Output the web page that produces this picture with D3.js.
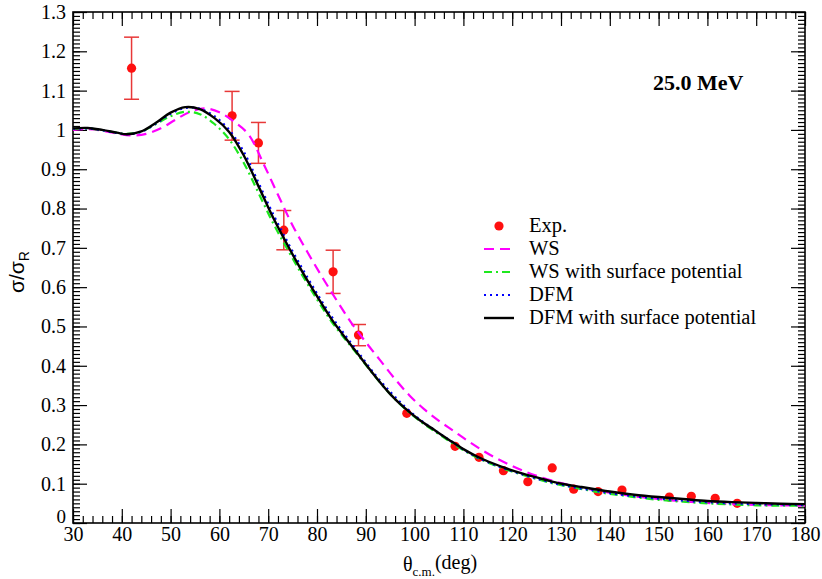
<!DOCTYPE html>
<html>
<head>
<meta charset="utf-8">
<script src="https://cdn.jsdelivr.net/npm/d3@7"></script>
<style>
  html, body { margin: 0; padding: 0; background: #fff; }
  svg { display: block; }
</style>
</head>
<body>
<svg id="chart" width="822" height="579"></svg>
<script>
// Elastic scattering ratio to Rutherford, 25.0 MeV

// Angular grid of the calculated curves (deg)
const thetaCalc = [30,33,36,39,41,44,47,50,53,56,59,62,65,68,71,74,77,80,83,86,89,92,95,98,101,104,107,110,113,116,119,122,125,128,131,134,137,140,145,150,155,160,165,170,175,180];
// DFM with surface potential
const dfmSurf = [1.004,1.005,1.000,0.993,0.989,0.996,1.018,1.044,1.058,1.053,1.030,0.995,0.935,0.857,0.777,0.706,0.639,0.577,0.518,0.468,0.420,0.372,0.328,0.292,0.262,0.237,0.212,0.188,0.168,0.152,0.138,0.126,0.116,0.106,0.098,0.092,0.086,0.080,0.072,0.066,0.061,0.056,0.053,0.051,0.049,0.048];
// DFM
const dfm = [1.003,1.004,0.999,0.992,0.989,0.995,1.016,1.041,1.056,1.054,1.035,1.000,0.944,0.866,0.786,0.714,0.647,0.584,0.525,0.474,0.425,0.376,0.334,0.296,0.264,0.237,0.212,0.187,0.166,0.150,0.136,0.124,0.113,0.103,0.095,0.088,0.082,0.076,0.068,0.062,0.057,0.053,0.050,0.048,0.047,0.046];
// WS with surface potential
const wsSurf = [1.003,1.004,0.999,0.993,0.990,0.996,1.015,1.035,1.046,1.040,1.015,0.976,0.916,0.840,0.763,0.695,0.630,0.569,0.512,0.464,0.418,0.371,0.328,0.291,0.260,0.234,0.209,0.185,0.165,0.149,0.135,0.123,0.112,0.102,0.094,0.087,0.080,0.074,0.066,0.059,0.054,0.050,0.047,0.045,0.044,0.044];

// Angular grid of the WS curve (deg)
const thetaWs = [30,33,36,39,42,45,48,51,54,57,60,63,66,69,72,75,78,81,84,87,90,93,96,99,102,105,108,111,114,117,120,123,126,129,132,135,138,141,145,150,155,160,165,170,175,180];
const ws = [1.000,1.002,0.998,0.991,0.986,0.990,1.004,1.026,1.046,1.055,1.045,1.021,0.988,0.915,0.835,0.757,0.690,0.627,0.567,0.510,0.460,0.413,0.366,0.324,0.289,0.260,0.234,0.208,0.184,0.163,0.145,0.129,0.116,0.105,0.096,0.088,0.081,0.075,0.068,0.061,0.055,0.051,0.048,0.046,0.045,0.044];

// Experimental points
const expTheta = [42.0,62.6,68.0,73.2,83.3,88.5,98.4,108.3,113.2,118.2,123.2,128.2,132.6,137.6,142.5,152.2,156.7,161.6,166.1];
const expVal   = [1.157,1.036,0.967,0.745,0.639,0.478,0.279,0.195,0.167,0.133,0.105,0.140,0.086,0.080,0.084,0.066,0.068,0.063,0.050];
const expErr   = [0.079,0.062,0.052,0.050,0.055,0.027,0,0,0,0,0,0,0,0,0,0,0,0,0];

// Axis ticks
const xMajor = [30,40,50,60,70,80,90,100,110,120,130,140,150,160,170,180];
const yMajor = [0,0.1,0.2,0.3,0.4,0.5,0.6,0.7,0.8,0.9,1,1.1,1.2,1.3];
const yLabels = ["0","0.1","0.2","0.3","0.4","0.5","0.6","0.7","0.8","0.9","1","1.1","1.2","1.3"];

// Legend entries
const legendNames = ["Exp.","WS","WS with surface potential","DFM","DFM with surface potential"];

const svg = d3.select("#chart");
const plotL = 73, plotR = 805, plotT = 12, plotB = 523;
const x = d3.scaleLinear().domain([30, 180]).range([plotL, plotR]);
const y = d3.scaleLinear().domain([0, 1.3]).range([plotB, plotT]);

const serif = "'Liberation Serif', 'Times New Roman', serif";

const xMinor = d3.range(30, 181, 2);
const yMinor = d3.range(0, 131).map(i => i / 100);

function styleAxis(g) {
  g.select(".domain").remove();
  g.selectAll(".tick line").attr("stroke", "#000").attr("stroke-width", 1.2);
  g.selectAll("text").attr("font-family", serif).attr("font-size", 20).attr("fill", "#000");
}

// bottom axis
svg.append("g").attr("transform", `translate(0,${plotB})`)
  .call(d3.axisBottom(x).tickValues(xMinor).tickSize(-7).tickFormat(""))
  .call(styleAxis);
svg.append("g").attr("transform", `translate(0,${plotB})`)
  .call(d3.axisBottom(x).tickValues(xMajor).tickSize(-14).tickPadding(4).tickFormat(d3.format("d")))
  .call(styleAxis);
// top axis
svg.append("g").attr("transform", `translate(0,${plotT})`)
  .call(d3.axisTop(x).tickValues(xMinor).tickSize(-7).tickFormat(""))
  .call(styleAxis);
svg.append("g").attr("transform", `translate(0,${plotT})`)
  .call(d3.axisTop(x).tickValues(xMajor).tickSize(-14).tickFormat(""))
  .call(styleAxis);
// left axis
svg.append("g").attr("transform", `translate(${plotL},0)`)
  .call(d3.axisLeft(y).tickValues(yMinor).tickSize(-7).tickFormat(""))
  .call(styleAxis);
const yAxisG = svg.append("g").attr("transform", `translate(${plotL},0)`)
  .call(d3.axisLeft(y).tickValues(yMajor).tickSize(-14).tickPadding(7)
    .tickFormat((d, i) => yLabels[i]))
  .call(styleAxis);
// the zero label sits a little higher, clear of the x labels
yAxisG.selectAll(".tick text").filter(d => d === 0).attr("dy", "-0.05em").attr("font-size", 19);
// right axis
svg.append("g").attr("transform", `translate(${plotR},0)`)
  .call(d3.axisRight(y).tickValues(yMinor).tickSize(-7).tickFormat(""))
  .call(styleAxis);
svg.append("g").attr("transform", `translate(${plotR},0)`)
  .call(d3.axisRight(y).tickValues(yMajor).tickSize(-14).tickFormat(""))
  .call(styleAxis);

// frame
svg.append("rect")
  .attr("x", plotL).attr("y", plotT)
  .attr("width", plotR - plotL).attr("height", plotB - plotT)
  .attr("fill", "none").attr("stroke", "#000").attr("stroke-width", 1.6);

// experimental points with error bars
const red = "#ff1010";
const errColor = "#e83838";
const exp = expTheta.map((t, i) => ({ t, v: expVal[i], e: expErr[i] }));
const eg = svg.append("g");
exp.filter(d => d.e > 0).forEach(d => {
  const cx = x(d.t), y1 = y(d.v + d.e), y0 = y(d.v - d.e);
  eg.append("line").attr("x1", cx).attr("x2", cx).attr("y1", y1).attr("y2", y0)
    .attr("stroke", errColor).attr("stroke-width", 1.5);
  [y1, y0].forEach(yy => eg.append("line")
    .attr("x1", cx - 7.5).attr("x2", cx + 7.5).attr("y1", yy).attr("y2", yy)
    .attr("stroke", errColor).attr("stroke-width", 1.5));
});
eg.selectAll("circle").data(exp).enter().append("circle")
  .attr("cx", d => x(d.t)).attr("cy", d => y(d.v)).attr("r", 4.6).attr("fill", red);

// calculated curves
const line = d3.line().x(d => x(d[0])).y(d => y(d[1])).curve(d3.curveCatmullRom.alpha(0.5));
const curves = [
  { th: thetaWs,   v: ws,      color: "#ff00ff", width: 2.2, dash: "10,6" },
  { th: thetaCalc, v: wsSurf,  color: "#1ee81e", width: 2.2, dash: "8,4,2,4" },
  { th: thetaCalc, v: dfm,     color: "#0000ff", width: 2.2, dash: "2,4" },
  { th: thetaCalc, v: dfmSurf, color: "#000000", width: 2.4, dash: null }
];
svg.append("clipPath").attr("id", "plotclip").append("rect")
  .attr("x", plotL).attr("y", plotT).attr("width", plotR - plotL).attr("height", plotB - plotT);
const cg = svg.append("g").attr("clip-path", "url(#plotclip)");
curves.forEach(c => {
  cg.append("path")
    .attr("d", line(c.th.map((t, i) => [t, c.v[i]])))
    .attr("fill", "none").attr("stroke", c.color).attr("stroke-width", c.width)
    .attr("stroke-dasharray", c.dash);
});

// legend
const legRows = [226, 249, 272, 295, 318];
const lg = svg.append("g");
legendNames.forEach((name, i) => {
  const ry = legRows[i];
  if (i === 0) {
    lg.append("circle").attr("cx", 499).attr("cy", ry).attr("r", 4.6).attr("fill", red);
  } else {
    const c = curves[i - 1];
    lg.append("line").attr("x1", 484).attr("x2", 514).attr("y1", ry).attr("y2", ry)
      .attr("stroke", c.color).attr("stroke-width", c.width).attr("stroke-dasharray", c.dash);
  }
  lg.append("text").attr("x", 529).attr("y", ry + 6)
    .attr("font-family", serif).attr("font-size", 20.5).attr("fill", "#000").text(name);
});

// energy label
svg.append("text").attr("x", 653).attr("y", 90)
  .attr("font-family", serif).attr("font-size", 22).attr("font-weight", "bold")
  .attr("fill", "#000").text("25.0 MeV");

// x axis title
const xt = svg.append("text").attr("x", 440).attr("y", 571).attr("text-anchor", "middle")
  .attr("font-family", serif).attr("font-size", 20).attr("fill", "#000");
xt.append("tspan").text("θ");
xt.append("tspan").attr("font-size", 13).attr("dy", 5).text("c.m.");
xt.append("tspan").attr("dy", -7).text("(deg)");

// y axis title
const yt = svg.append("text").attr("transform", "translate(24,272) rotate(-90)")
  .attr("text-anchor", "middle")
  .attr("font-family", "'Liberation Sans', Arial, sans-serif").attr("font-size", 21).attr("fill", "#000");
yt.append("tspan").text("σ/σ");
yt.append("tspan").attr("font-size", 14).attr("dy", 5).text("R");
</script>
</body>
</html>
